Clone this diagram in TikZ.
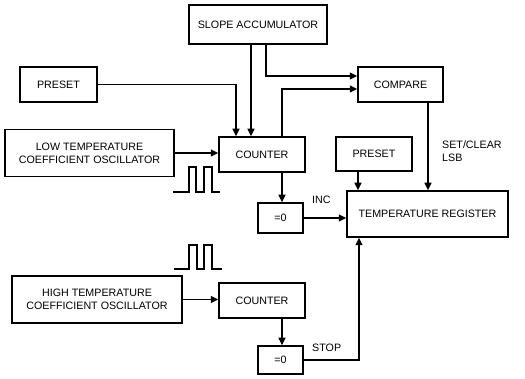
\documentclass[tikz,border=0pt]{standalone}
\usepackage{fontspec}
\setmainfont{Liberation Sans}
\usetikzlibrary{arrows.meta}
\begin{document}
\begin{tikzpicture}[x=1pt,y=-1pt,
  blk/.style={draw,line width=1.5pt,rectangle,inner sep=0pt,align=center,font=\fontsize{10.7}{12.8}\selectfont},
  conn/.style={line width=1.5pt,-{Triangle[length=7.5pt,width=7pt]}},
  lbl/.style={font=\fontsize{10.7}{12.8}\selectfont,inner sep=0pt,align=left},
  pulse/.style={line width=1.2pt}]
\useasboundingbox (0,0) rectangle (525,379);
\node[blk,minimum width=138pt,minimum height=39pt] (slope) at (258,24.5) {SLOPE ACCUMULATOR};
\node[blk,minimum width=77pt,minimum height=35pt] (preset1) at (58.5,84.5) {PRESET};
\node[blk,minimum width=85pt,minimum height=35pt] (compare) at (400.5,84.5) {COMPARE};
\node[blk,minimum width=169pt,minimum height=47pt] (lowosc) at (89.5,153) {LOW TEMPERATURE\\COEFFICIENT OSCILLATOR};
\node[blk,minimum width=86pt,minimum height=35pt] (counter1) at (262,154.5) {COUNTER};
\node[blk,minimum width=76pt,minimum height=34pt] (preset2) at (374,154) {PRESET};
\node[blk,minimum width=45pt,minimum height=30pt] (eq1) at (280.5,218) {=0};
\node[blk,minimum width=161pt,minimum height=46pt] (treg) at (427.5,214) {TEMPERATURE REGISTER};
\node[blk,minimum width=170pt,minimum height=47pt] (highosc) at (97,299.5) {HIGH TEMPERATURE\\COEFFICIENT OSCILLATOR};
\node[blk,minimum width=86pt,minimum height=35pt] (counter2) at (262,300.5) {COUNTER};
\node[blk,minimum width=45pt,minimum height=28pt] (eq2) at (280.5,360) {=0};
\coordinate (stopturn) at ([xshift=-68.5pt]treg.south);
% connectors
\draw[conn] (preset1.east) -| ([xshift=-26pt]counter1.north);
\draw[conn] ([xshift=-7pt]slope.south) -- ([xshift=-7pt]slope.south |- counter1.north);
\draw[conn] ([xshift=8pt]slope.south) |- ([yshift=8.5pt]compare.west);
\draw[conn] ([xshift=20pt]counter1.north) |- ([yshift=-4.5pt]compare.west);
\draw[conn] (lowosc.east) -- (lowosc.east -| counter1.west);
\draw[conn] ([xshift=20pt]counter1.south) -- ([xshift=20pt]counter1.south |- eq1.north);
\draw[conn] (eq1.east) -- (eq1.east -| treg.west);
\draw[conn] ([xshift=-16pt]preset2.south) -- ([xshift=-16pt]preset2.south |- treg.north);
\draw[conn] ([xshift=27.5pt]compare.south) -- ([xshift=27.5pt]compare.south |- treg.north);
\draw[conn] (highosc.east) -- (highosc.east -| counter2.west);
\draw[conn] ([xshift=20pt]counter2.south) -- ([xshift=20pt]counter2.south |- eq2.north);
\draw[conn] (eq2.east) -| (stopturn);
% labels
\node[lbl,anchor=west] (inc) at (312,200) {INC};
\node[lbl,anchor=west] (stop) at (312,348) {STOP};
\node[lbl,anchor=north west] (setclear) at (442,141) {SET/CLEAR\\LSB};
% pulses
\draw[pulse] (173,192) -- (189,192) -- (189,167) -- (196,167) -- (196,192) -- (204,192) -- (204,167) -- (212,167) -- (212,192) -- (220,192);
\draw[pulse] (174,269) -- (189,269) -- (189,245) -- (197,245) -- (197,269) -- (204,269) -- (204,245) -- (212,245) -- (212,269) -- (222,269);
\end{tikzpicture}
\end{document}
